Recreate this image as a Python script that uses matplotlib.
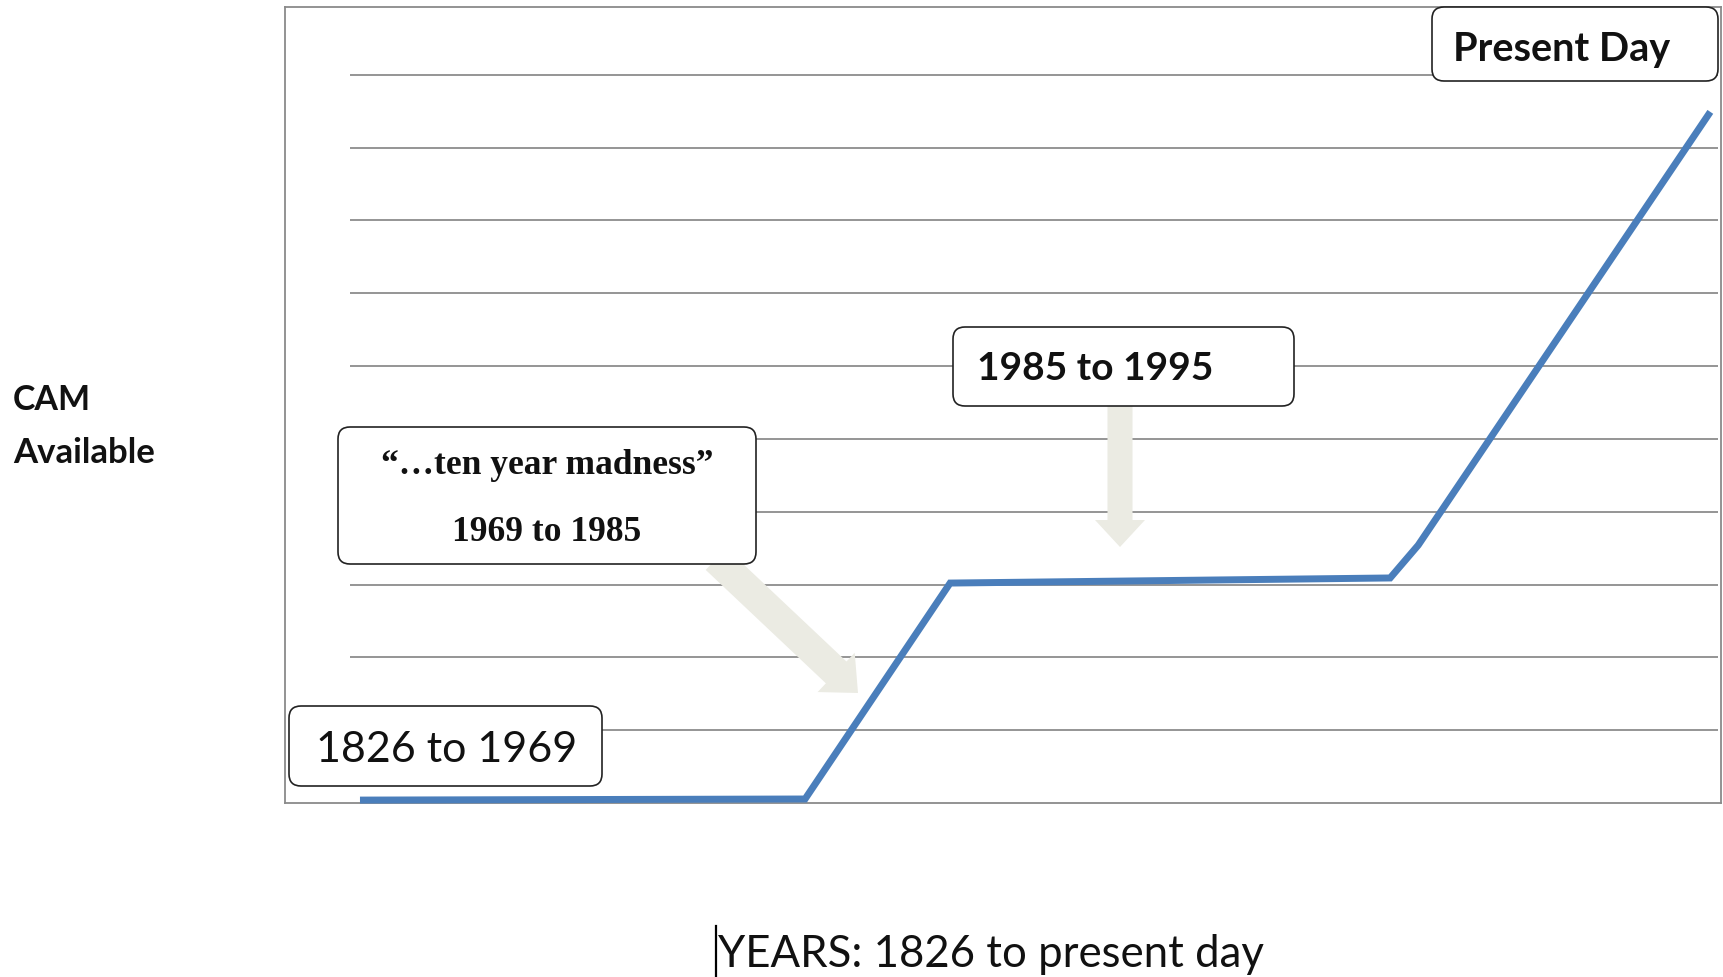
import matplotlib
matplotlib.use("Agg")
import matplotlib.pyplot as plt
from matplotlib.patches import FancyBboxPatch, FancyArrow
from matplotlib.transforms import IdentityTransform
from matplotlib.lines import Line2D

# ---- data ----
x_pos = [0.73, 33.26, 43.86, 76.02, 78.07, 99.42]
cam_level = [0.04, 0.055, 3.02, 3.09, 3.54, 9.49]
grid_levels = [1, 2, 3, 4, 5, 6, 7, 8, 9, 10]
period_labels = ["1826 to 1969", "\u201c\u2026ten year madness\u201d", "1969 to 1985",
                 "1985 to 1995", "Present Day"]
y_label_lines = ["CAM", "Available"]
x_label = "YEARS: 1826 to present day"

W, H = 1723, 978
fig = plt.figure(figsize=(W / 100, H / 100), dpi=100)
ID = IdentityTransform()


def P(x, y):
    """top-left pixel -> display pixel"""
    return x, H - y


# axes spanning the outer chart frame
left, right, top, bottom = 285, 1721, 8, 804
ax = fig.add_axes([left / W, 1 - bottom / H, (right - left) / W, (bottom - top) / H])
ax.set_xlim(-4.75, 100.2)
ax.set_ylim(0, 10.93)
ax.set_xticks([])
ax.set_yticks([])
for s in ax.spines.values():
    s.set_color("#8a8a8a")
    s.set_linewidth(1.3)

ax.hlines(grid_levels, 0, 100, color="#8c8c8c", lw=1.3, zorder=1)

# arrows (light beige)
acol = "#ebebe3"
x0, y0 = P(1120, 405)
x1, y1 = P(1120, 548)
fig.add_artist(FancyArrow(x0, y0, x1 - x0, y1 - y0, width=25, head_width=50,
                          head_length=27, length_includes_head=True,
                          transform=ID, color=acol, lw=0, zorder=2))
x0, y0 = P(716, 560)
x1, y1 = P(858, 694)
fig.add_artist(FancyArrow(x0, y0, x1 - x0, y1 - y0, width=30, head_width=54,
                          head_length=30, length_includes_head=True,
                          transform=ID, color=acol, lw=0, zorder=2))

# the line
ax.plot(x_pos, cam_level, color="#4a7ebb", lw=5.0, solid_capstyle="butt",
        solid_joinstyle="miter", zorder=5, clip_on=False)


def box(x0, y0, x1, y1):
    bx, by = P(x0, y1)
    fig.add_artist(FancyBboxPatch((bx, by), x1 - x0, y1 - y0,
                                  boxstyle="round,pad=0,rounding_size=12",
                                  transform=ID, facecolor="white",
                                  edgecolor="#222222", lw=1.2, zorder=6))


tc = "#111111"
sans = ["Lato", "DejaVu Sans"]
serif = ["Liberation Serif", "DejaVu Serif"]

# Present Day
box(1432, 8, 1718, 82)
fig.text(*P(1453, 61), period_labels[4], transform=ID, fontsize=28.5,
         fontweight="bold", family=sans, color=tc, va="baseline", ha="left", zorder=7)

# 1985 to 1995
box(953, 328, 1294, 407)
fig.text(*P(977, 380), period_labels[3], transform=ID, fontsize=28,
         fontweight="bold", family=sans, color=tc, va="baseline", ha="left", zorder=7)

# ten year madness
box(338, 428, 756, 565)
fig.text(*P(547, 474), period_labels[1], transform=ID, fontsize=25.5,
         fontweight="bold", family=serif, color=tc, va="baseline", ha="center", zorder=7)
fig.text(*P(547, 541), period_labels[2], transform=ID, fontsize=25.5,
         fontweight="bold", family=serif, color=tc, va="baseline", ha="center", zorder=7)

# 1826 to 1969
box(289, 707, 602, 787)
fig.text(*P(316, 762), period_labels[0], transform=ID, fontsize=31,
         family=sans, color=tc, va="baseline", ha="left", zorder=7)

# y label
fig.text(*P(13, 410), y_label_lines[0], transform=ID, fontsize=24.5,
         fontweight="bold", family=sans, color=tc, va="baseline", ha="left")
fig.text(*P(13, 463), y_label_lines[1], transform=ID, fontsize=25,
         fontweight="bold", family=sans, color=tc, va="baseline", ha="left")

# x label
fig.text(*P(718, 967), x_label, transform=ID, fontsize=31.5,
         family=sans, color=tc, va="baseline", ha="left")
cx, cy0 = P(716, 927)
fig.add_artist(Line2D([cx, cx], [cy0, 0], transform=ID, color="black", lw=1.6))

fig.savefig("out.png", dpi=100)
